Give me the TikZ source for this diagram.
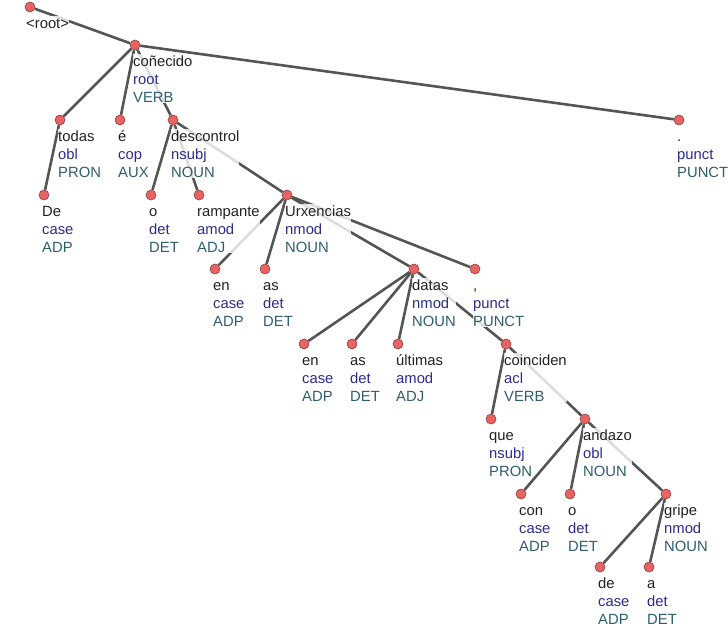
\documentclass[tikz,border=0pt]{standalone}
\usepackage{fontspec}
\setmainfont{Liberation Sans}
\usepackage{xcolor}
\usepackage{tikz}
\usetikzlibrary{calc}

\definecolor{wordc}{HTML}{222222}
\definecolor{relc}{HTML}{2C2C8E}
\definecolor{posc}{HTML}{2E5E6E}
\definecolor{dotc}{HTML}{E86464}
\definecolor{edgec}{HTML}{555555}

% one label: word / relation / part of speech
\newcommand{\lab}[4]{\node[lab] (#1-t) at ($(#1)+(-2,-9)$) {\textcolor{wordc}{\strut #2}\\\textcolor{relc}{#3}\\\textcolor{posc}{#4}};}

\begin{document}
\begin{tikzpicture}[x=1pt,y=1pt]
                    \tikzstyle{dot}=[circle,draw=dotc!60!black,fill=dotc,line width=0.6pt,minimum size=10pt,inner sep=0pt]
                    \tikzstyle{edge}=[draw=edgec,line width=2.6pt]
                    \tikzstyle{lab}=[anchor=north west,inner sep=0pt,align=left,fill=white,fill opacity=0.8,text opacity=1,font=\fontsize{14.8}{18}\selectfont]
                    \useasboundingbox (0,0) rectangle (728,-627);
                    % tokens
                    \node [dot] (root) at (30,-7) {};
                    \node [dot] (conecido) at (135,-45) {};
                    \node [dot] (todas) at (60,-120) {};
                    \node [dot] (e) at (120,-120) {};
                    \node [dot] (descontrol) at (173,-120) {};
                    \node [dot] (period) at (679,-120) {};
                    \node [dot] (de1) at (44,-195) {};
                    \node [dot] (o1) at (151,-195) {};
                    \node [dot] (rampante) at (199,-195) {};
                    \node [dot] (urxencias) at (287,-195) {};
                    \node [dot] (en1) at (215,-269) {};
                    \node [dot] (as1) at (265,-269) {};
                    \node [dot] (datas) at (414,-269) {};
                    \node [dot] (comma) at (475,-269) {};
                    \node [dot] (en2) at (304,-344) {};
                    \node [dot] (as2) at (352,-344) {};
                    \node [dot] (ultimas) at (398,-344) {};
                    \node [dot] (coinciden) at (506,-344) {};
                    \node [dot] (que) at (491,-419) {};
                    \node [dot] (andazo) at (585,-419) {};
                    \node [dot] (con) at (521,-494) {};
                    \node [dot] (o2) at (570,-494) {};
                    \node [dot] (gripe) at (666,-494) {};
                    \node [dot] (de2) at (600,-567) {};
                    \node [dot] (a) at (649,-567) {};
                    % arcs
                    \draw [edge] (root) -- (conecido);
                    \draw [edge] (conecido) -- (todas);
                    \draw [edge] (conecido) -- (e);
                    \draw [edge] (conecido) -- (descontrol);
                    \draw [edge] (conecido) -- (period);
                    \draw [edge] (todas) -- (de1);
                    \draw [edge] (descontrol) -- (o1);
                    \draw [edge] (descontrol) -- (rampante);
                    \draw [edge] (descontrol) -- (urxencias);
                    \draw [edge] (urxencias) -- (en1);
                    \draw [edge] (urxencias) -- (as1);
                    \draw [edge] (urxencias) -- (datas);
                    \draw [edge] (urxencias) -- (comma);
                    \draw [edge] (datas) -- (en2);
                    \draw [edge] (datas) -- (as2);
                    \draw [edge] (datas) -- (ultimas);
                    \draw [edge] (datas) -- (coinciden);
                    \draw [edge] (coinciden) -- (que);
                    \draw [edge] (coinciden) -- (andazo);
                    \draw [edge] (andazo) -- (con);
                    \draw [edge] (andazo) -- (o2);
                    \draw [edge] (andazo) -- (gripe);
                    \draw [edge] (gripe) -- (de2);
                    \draw [edge] (gripe) -- (a);
                    % labels
                    \node [lab] (root-t) at ($(root)+(-4,-9)$) {\textcolor{wordc}{\strut <root>}};
                    \lab{conecido}{coñecido}{root}{VERB}
                    \lab{todas}{todas}{obl}{PRON}
                    \lab{e}{é}{cop}{AUX}
                    \lab{descontrol}{descontrol}{nsubj}{NOUN}
                    \lab{period}{.}{punct}{PUNCT}
                    \lab{de1}{De}{case}{ADP}
                    \lab{o1}{o}{det}{DET}
                    \lab{rampante}{rampante}{amod}{ADJ}
                    \lab{urxencias}{Urxencias}{nmod}{NOUN}
                    \lab{en1}{en}{case}{ADP}
                    \lab{as1}{as}{det}{DET}
                    \lab{datas}{datas}{nmod}{NOUN}
                    \lab{comma}{,}{punct}{PUNCT}
                    \lab{en2}{en}{case}{ADP}
                    \lab{as2}{as}{det}{DET}
                    \lab{ultimas}{últimas}{amod}{ADJ}
                    \lab{coinciden}{coinciden}{acl}{VERB}
                    \lab{que}{que}{nsubj}{PRON}
                    \lab{andazo}{andazo}{obl}{NOUN}
                    \lab{con}{con}{case}{ADP}
                    \lab{o2}{o}{det}{DET}
                    \lab{gripe}{gripe}{nmod}{NOUN}
                    \lab{de2}{de}{case}{ADP}
                    \lab{a}{a}{det}{DET}
\end{tikzpicture}
\end{document}
